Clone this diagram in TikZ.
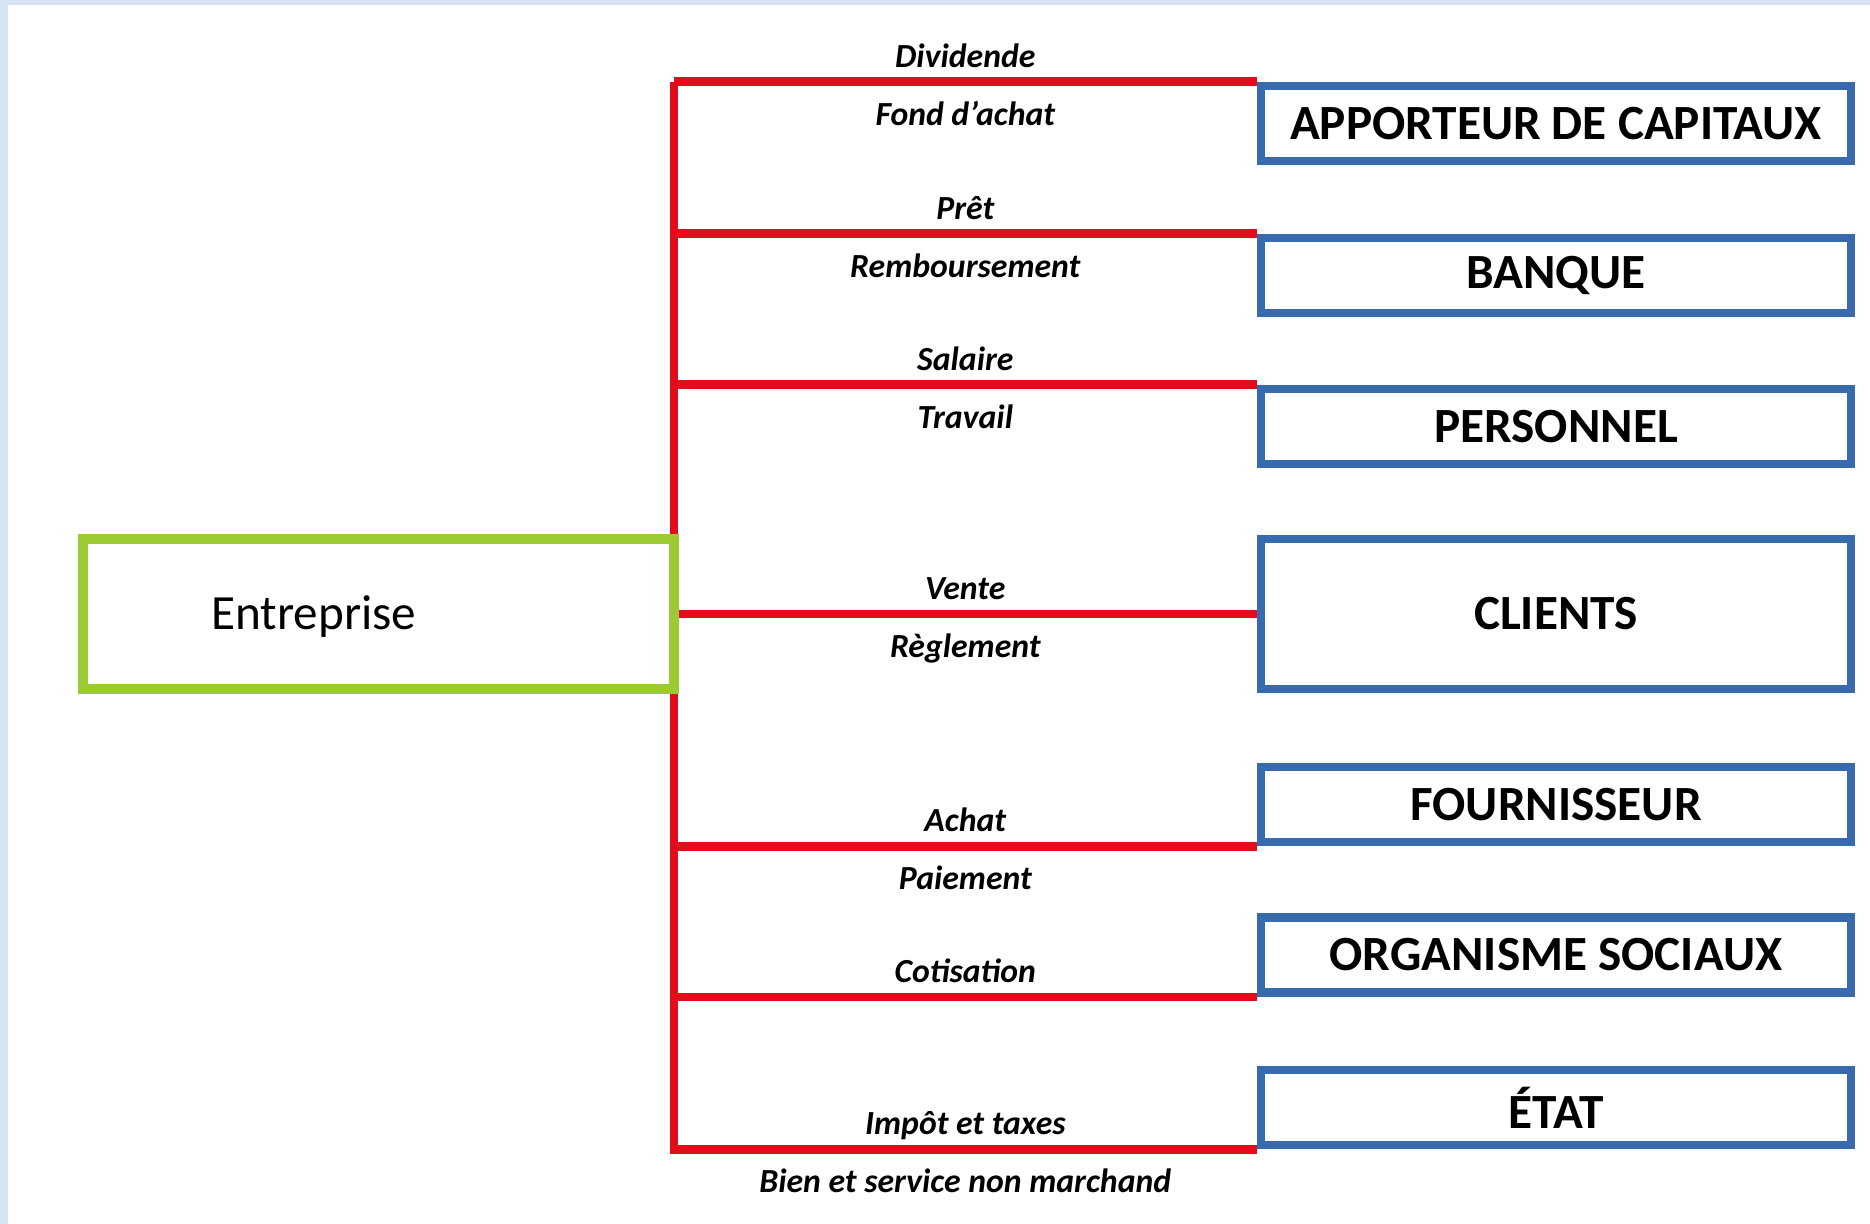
\documentclass[tikz,border=0pt]{standalone}
\usepackage{fontspec}
\setmainfont{Carlito}
\begin{document}
\begin{tikzpicture}[
        partner/.style={draw=myblue, line width=2.5pt, minimum width=5.90cm, minimum height=0.75cm, inner sep=0pt, font=\fontsize{14}{16}\selectfont\bfseries},
        firm/.style={draw=mygreen, line width=2.7pt, minimum width=5.91cm, minimum height=1.50cm, inner sep=0pt},
        flow/.style={draw=myred, line width=2.5pt},
        flow_label/.style={font=\fontsize{9.6}{11}\selectfont\bfseries\itshape, inner sep=0pt, text height=1.6ex, text depth=.4ex},
        up_label/.style={flow_label, midway, yshift=2.45mm},
        down_label/.style={flow_label, midway, yshift=-3.35mm}
    ]

        \definecolor{myred}{RGB}{226, 12, 26}
        \definecolor{myblue}{RGB}{56, 106, 176}
        \definecolor{mygreen}{RGB}{156, 202, 52}
        \definecolor{bgblue}{RGB}{214, 228, 245}

        \useasboundingbox (0,0) rectangle (18.70,-12.24);
        \fill[bgblue] (0,0) rectangle (18.70,-12.24);
        \fill[white] (0.08,-0.05) rectangle (18.70,-12.24);

        % partners on the right
        \node[partner] (apporteur) at (15.56,-1.235) {APPORTEUR DE CAPITAUX};
        \node[partner] (banque) at (15.56,-2.755) {BANQUE};
        \node[partner] (personnel) at (15.56,-4.265) {PERSONNEL};
        \node[partner, minimum height=1.50cm] (clients) at (15.56,-6.14) {CLIENTS};
        \node[partner] (fournisseur) at (15.56,-8.045) {FOURNISSEUR};
        \node[partner] (organisme) at (15.56,-9.55) {ORGANISME SOCIAUX};
        \node[partner] (etat) at (15.56,-11.075) {ÉTAT};

        \coordinate (trunk_top) at (6.74,-0.86);
        \coordinate (trunk_bottom) at (etat.south west -| trunk_top);

        \draw[flow, line cap=rect] (trunk_top) -- (trunk_bottom);

        \draw[flow] (apporteur.north west -| trunk_top) -- node[up_label] {Dividende}
                            node[down_label] {Fond d’achat}
                    (apporteur.north west);

        \draw[flow] (banque.north west -| trunk_top) -- node[up_label] {Prêt}
                            node[down_label] {Remboursement}
                    (banque.north west);

        \draw[flow] (personnel.north west -| trunk_top) -- node[up_label] {Salaire}
                            node[down_label] {Travail}
                    (personnel.north west);

        \draw[flow] (clients.west -| trunk_top) -- node[up_label] {Vente}
                            node[down_label] {Règlement}
                    (clients.west);

        \draw[flow] (fournisseur.south west -| trunk_top) -- node[up_label] {Achat}
                            node[down_label] {Paiement}
                    (fournisseur.south west);

        \draw[flow] (organisme.south west -| trunk_top) -- node[up_label] {Cotisation}
                    (organisme.south west);

        \draw[flow] (trunk_bottom) -- node[up_label] {Impôt et taxes}
                            node[down_label] {Bien et service non marchand}
                    (etat.south west);

        % the firm, drawn over the trunk
        \node[firm] (entreprise) at (3.785,-6.14) {};
        \node[font=\fontsize{14}{16}\selectfont] (entreprise_text) at (3.14,-6.17) {Entreprise};

    \end{tikzpicture}
\end{document}
